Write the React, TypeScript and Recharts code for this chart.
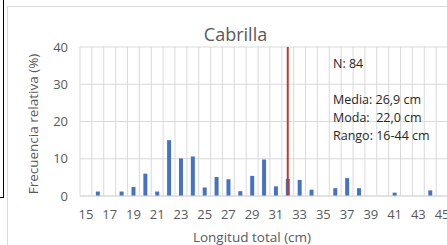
import {
  BarChart,
  Bar,
  XAxis,
  YAxis,
  CartesianGrid,
  ReferenceLine,
} from "recharts";

// longitud total (cm) y frecuencia relativa (%)
const lengths = [
  15, 16, 17, 18, 19, 20, 21, 22, 23, 24, 25, 26, 27, 28, 29, 30,
  31, 32, 33, 34, 35, 36, 37, 38, 39, 40, 41, 42, 43, 44, 45,
];
const freq = [
  0, 1.2, 0, 1.2, 2.4, 6.0, 1.2, 15.0, 10.1, 10.6, 2.3, 5.1, 4.5, 1.3, 5.4, 9.8,
  2.6, 4.6, 4.3, 1.7, 0, 2.1, 4.8, 2.1, 0, 0, 0.9, 0, 0, 1.5, 0,
];
const xTicks = [15, 17, 19, 21, 23, 25, 27, 29, 31, 33, 35, 37, 39, 41, 43, 45];
const yTicks = [0, 10, 20, 30, 40];
const refLength = 32;
const statsLines = ["N: 84", "", "Media: 26,9 cm", "Moda:  22,0 cm", "Rango: 16-44 cm"];

const data = lengths.map((len, i) => ({ len, freq: freq[i] }));

const FONT = '"Open Sans", sans-serif';
const GRAY = "#595959";
const GRID = "#d9d9d9";

export default function App() {
  return (
    <div
      style={{
        position: "fixed",
        left: 0,
        top: 0,
        width: 447,
        height: 245,
        overflow: "hidden",
        background: "#fff",
        fontFamily: FONT,
      }}
    >
      {/* bits of the surrounding page */}
      <div style={{ position: "absolute", left: 3, top: 0, width: 1, height: 198, background: "#000" }} />
      <div style={{ position: "absolute", left: 0, top: 197, width: 4, height: 1, background: "#000" }} />
      {/* chart frame */}
      <div
        style={{
          position: "absolute",
          left: 7,
          top: 6,
          width: 460,
          height: 260,
          border: `1px solid ${GRID}`,
        }}
      />

      <div
        style={{
          position: "absolute",
          left: 0,
          top: 22,
          width: 471,
          textAlign: "center",
          fontSize: 18,
          color: GRAY,
          lineHeight: "24px",
        }}
      >
        Cabrilla
      </div>

      <div style={{ position: "absolute", left: 0, top: 0 }}>
        <BarChart
          width={456}
          height={245}
          data={data}
          margin={{ top: 47, right: 8, bottom: 0, left: 0 }}
          barCategoryGap={0}
        >
          <CartesianGrid
            stroke={GRID}
            verticalCoordinatesGenerator={({ offset }: any) =>
              Array.from({ length: data.length + 1 }, (_, i) => offset.left + (i * offset.width) / data.length)
            }
          />
          <XAxis
            dataKey="len"
            ticks={xTicks}
            interval={0}
            height={49}
            tickSize={0}
            tickMargin={14}
            axisLine={{ stroke: GRID }}
            tick={{ fill: GRAY, fontSize: 13, fontFamily: FONT }}
            label={{
              content: () => (
                <text
                  x={252}
                  y={237}
                  textAnchor="middle"
                  dominantBaseline="central"
                  fill={GRAY}
                  fontSize={13.5}
                  fontFamily={FONT}
                >
                  Longitud total (cm)
                </text>
              ),
            }}
          />
          <YAxis
            domain={[0, 40]}
            ticks={yTicks}
            width={80}
            tickSize={0}
            tickMargin={12}
            axisLine={false}
            tick={{ fill: GRAY, fontSize: 13, fontFamily: FONT }}
            label={{
              content: () => (
                <text
                  x={33}
                  y={124}
                  transform="rotate(-90, 33, 124)"
                  textAnchor="middle"
                  dominantBaseline="central"
                  fill={GRAY}
                  fontSize={13.5}
                  fontFamily={FONT}
                >
                  Frecuencia relativa (%)
                </text>
              ),
            }}
          />
          <Bar dataKey="freq" fill="#4472c4" barSize={4} isAnimationActive={false} />
          <ReferenceLine x={refLength} stroke="#c0392b" strokeWidth={2} />
        </BarChart>
      </div>

      <div
        style={{
          position: "absolute",
          left: 333,
          top: 55,
          fontSize: 12.5,
          lineHeight: "18px",
          color: "#262626",
          whiteSpace: "pre",
        }}
      >
        {statsLines.map((line, i) => (
          <div key={i} style={{ height: 18 }}>
            {line}
          </div>
        ))}
      </div>
    </div>
  );
}
